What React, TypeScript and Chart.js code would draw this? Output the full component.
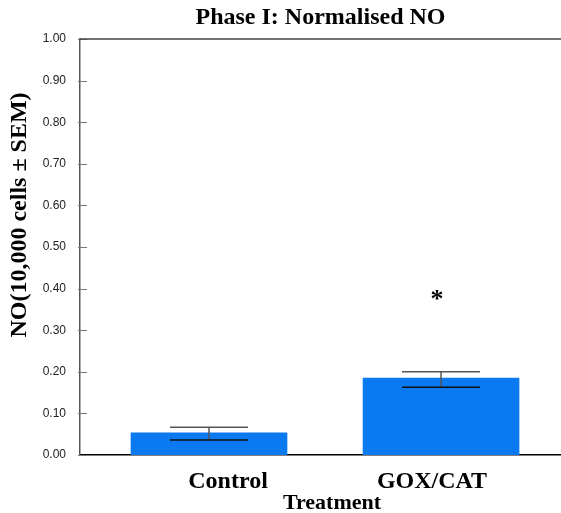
import React, { useEffect, useRef } from "react";
import { Chart, registerables } from "chart.js";

Chart.register(...registerables);

const categories = ["Control", "GOX/CAT"];
const means = [0.053, 0.185];
const semUpper = [0.067, 0.2];
const semLower = [0.036, 0.163];
const significance: (number | null)[] = [null, 0.385];
const yMin = 0;
const yMax = 1;
const yStep = 0.1;

const chartTitle = "Phase I: Normalised NO";
const yTitle = "NO(10,000 cells \u00B1 SEM)";
const xTitle = "Treatment";

// label placement nudge (axis units) – labels in the original sit off-centre
const labelNudge = [0.082, -0.039];

const serif = "'Liberation Serif', 'Times New Roman', serif";

const decorPlugin = {
  id: "decor",
  afterDatasetsDraw(chart: any) {
    const { ctx, chartArea } = chart;
    const xs = chart.scales.x;
    const ys = chart.scales.y;
    ctx.save();
    // error bars
    categories.forEach((_, i) => {
      const x = xs.getPixelForValue(i);
      const yu = ys.getPixelForValue(semUpper[i]);
      const yl = ys.getPixelForValue(semLower[i]);
      const half = 39;
      ctx.lineWidth = 1.5;
      ctx.strokeStyle = "#555";
      ctx.beginPath();
      ctx.moveTo(x, yu);
      ctx.lineTo(x, yl);
      ctx.moveTo(x - half, yu);
      ctx.lineTo(x + half, yu);
      ctx.stroke();
      ctx.strokeStyle = "#111";
      ctx.beginPath();
      ctx.moveTo(x - half, yl);
      ctx.lineTo(x + half, yl);
      ctx.stroke();
      const s = significance[i];
      if (s != null) {
        ctx.fillStyle = "#000";
        ctx.font = `bold 26px ${serif}`;
        ctx.textAlign = "center";
        ctx.textBaseline = "alphabetic";
        ctx.fillText("*", x - 4, ys.getPixelForValue(s) + 12);
      }
    });
    // y tick marks (inside)
    ctx.strokeStyle = "#777";
    ctx.lineWidth = 1;
    ys.ticks.forEach((t: any) => {
      const y = Math.round(ys.getPixelForValue(t.value)) + 0.5;
      ctx.beginPath();
      ctx.moveTo(chartArea.left - 2, y);
      ctx.lineTo(chartArea.left + 7, y);
      ctx.stroke();
    });
    // top frame line
    ctx.strokeStyle = "#444";
    ctx.lineWidth = 1.5;
    ctx.beginPath();
    ctx.moveTo(chartArea.left, chartArea.top);
    ctx.lineTo(chartArea.right, chartArea.top);
    ctx.stroke();
    // axis titles
    ctx.fillStyle = "#000";
    ctx.font = `bold 24px ${serif}`;
    ctx.textAlign = "center";
    ctx.textBaseline = "middle";
    ctx.save();
    ctx.translate(20, 215);
    ctx.rotate(-Math.PI / 2);
    ctx.fillText(yTitle, 0, 0);
    ctx.restore();
    ctx.font = `bold 22px ${serif}`;
    ctx.fillText(xTitle, 332, 503);
    ctx.restore();
  },
};

export default function App() {
  const ref = useRef<HTMLCanvasElement | null>(null);
  useEffect(() => {
    if (!ref.current) return;
    const chart = new Chart(ref.current, {
      type: "bar",
      data: {
        datasets: [
          {
            data: means.map((v, i) => ({ x: i, y: v })),
            backgroundColor: "#0b79f0",
            borderWidth: 0,
            barThickness: 156,
          },
        ],
      },
      options: {
        responsive: false,
        animation: false,
        layout: { padding: 0 },
        plugins: {
          legend: { display: false },
          tooltip: { enabled: false },
          title: {
            display: true,
            text: chartTitle,
            fullSize: false,
            color: "#000",
            font: { family: serif, size: 24, weight: "bold", lineHeight: 1.2 },
            padding: { top: 3, bottom: 7.2 },
          },
        },
        scales: {
          x: {
            type: "linear",
            min: -0.556,
            max: 1.517,
            offset: false,
            bounds: "data",
            z: 1,
            afterFit(scale: any) {
              scale.height = 58;
            },
            afterBuildTicks(scale: any) {
              scale.ticks = categories.map((_, i) => ({ value: i + labelNudge[i] }));
            },
            grid: { display: false, drawTicks: false, offset: false },
            border: { display: true, color: "#000", width: 1.5 },
            ticks: {
              autoSkip: false,
              maxRotation: 0,
              padding: 12,
              color: "#000",
              font: { family: serif, size: 24, weight: "bold" },
              callback: (_v: any, idx: number) => categories[idx] ?? "",
            },
          },
          y: {
            min: yMin,
            max: yMax,
            afterFit(scale: any) {
              scale.width = 80;
            },
            grid: { display: false, drawTicks: false },
            border: { display: true, color: "#555", width: 1.5 },
            ticks: {
              stepSize: yStep,
              padding: 14,
              color: "#222",
              font: { family: "'Liberation Sans', Arial, sans-serif", size: 12 },
              callback: (v: any) => Number(v).toFixed(2),
            },
          },
        },
      },
      plugins: [decorPlugin],
    } as any);
    return () => chart.destroy();
  }, []);
  return (
    <div style={{ position: "absolute", left: 0, top: 0, width: 561, height: 513, background: "#fff" }}>
      <canvas ref={ref} width={561} height={513} style={{ display: "block" }} />
    </div>
  );
}
